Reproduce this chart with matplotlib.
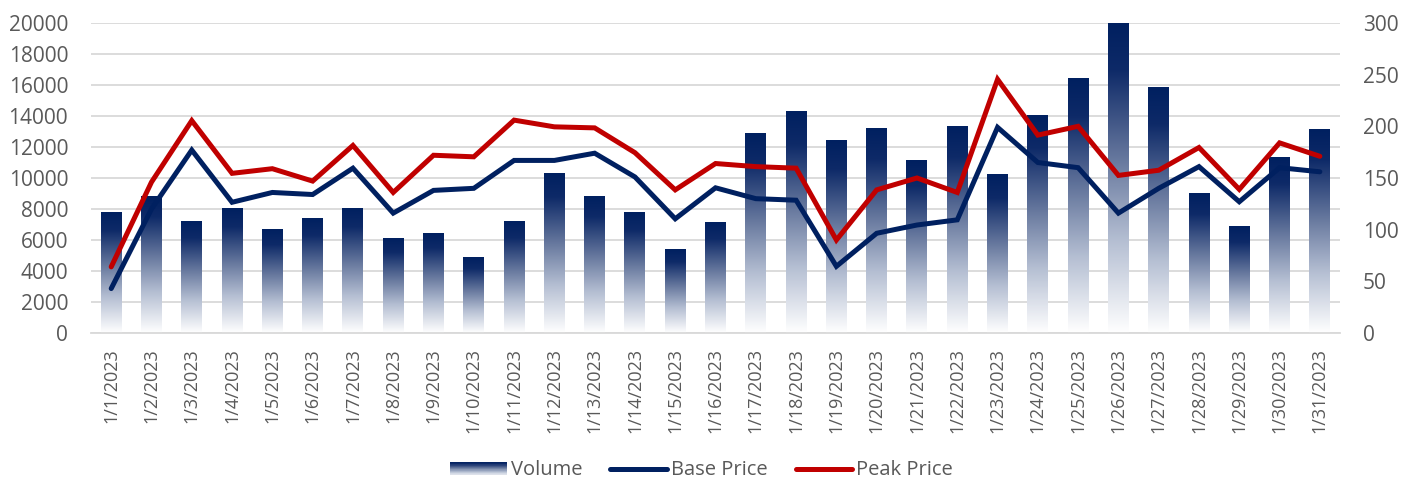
import numpy as np
import matplotlib
matplotlib.use("Agg")
import matplotlib.pyplot as plt
from matplotlib.colors import LinearSegmentedColormap
from matplotlib.patches import Rectangle
from matplotlib.legend_handler import HandlerBase

dates = [f"1/{d}/2023" for d in range(1, 32)]
volume = [7800, 8800, 7200, 8050, 6700, 7400, 8000, 6100, 6400, 4850,
          7200, 10300, 8800, 7750, 5400, 7100, 12900, 14300, 12400, 13200,
          11150, 13350, 10250, 14050, 16450, 19950, 15870, 9030, 6840, 11350, 13160]
base_price = [43, 120, 177, 126.5, 136, 134, 159.5, 116, 138, 140,
              167, 167, 174, 151, 110.5, 140.5, 130, 128.5, 64.5, 96.5,
              104.5, 109.5, 199, 165, 160, 116, 140, 161, 127, 160, 156]
peak_price = [64, 146, 205.5, 154.5, 159, 147, 181.5, 136, 172, 170.5,
              206, 199.5, 198.5, 174.5, 138.5, 164, 161, 159.5, 90, 138.5,
              150, 136, 245.5, 191.5, 200, 152.5, 157.5, 179.5, 139, 184, 171]

NAVY = "#002060"
RED = "#C00000"
GRAY = "#595959"

plt.rcParams['font.family'] = ['Open Sans', 'DejaVu Sans']

cmap = LinearSegmentedColormap.from_list(
    "grad", [(0.0, "#ffffff"), (0.3, "#b4bed2"), (0.55, "#6a7ba0"),
             (0.85, "#0e2a68"), (1.0, NAVY)])

fig = plt.figure(figsize=(14.03, 4.84), dpi=100)
ax = fig.add_axes([0.0649, 0.312, 0.8902, 0.6405])
ax2 = ax.twinx()

x = np.arange(len(dates))
w = 0.52
grad = np.linspace(0, 1, 256).reshape(-1, 1)
bars = ax.bar(x, volume, width=w, color="none", zorder=2)
for b in bars:
    bx, by = b.get_x(), b.get_y()
    bw, bh = b.get_width(), b.get_height()
    ax.imshow(grad, cmap=cmap, origin="lower", aspect="auto",
              extent=[bx, bx + bw, by, by + bh], zorder=2, interpolation="bilinear")

ax.set_xlim(-0.5, len(dates) - 0.5)
ax.set_ylim(0, 20000)
ax.set_yticks(np.arange(0, 20001, 2000))
ax.yaxis.grid(True, color="#d9d9d9", linewidth=1.3, zorder=0)
ax.set_axisbelow(True)
ax.set_xticks(x)
ax.set_xticklabels(dates, rotation=90, fontsize=13, color=GRAY)
ax.tick_params(axis="y", labelsize=15, labelcolor=GRAY, length=0, pad=16.5)
ax.tick_params(axis="x", length=0, pad=11)
for s in ["top", "right", "left"]:
    ax.spines[s].set_visible(False)
    ax2.spines[s].set_visible(False)
ax.spines["bottom"].set_color("#d9d9d9")
ax.spines["bottom"].set_linewidth(1.3)
ax2.spines["bottom"].set_visible(False)

l1, = ax2.plot(x, base_price, color=NAVY, linewidth=3.6, solid_joinstyle="miter",
               solid_capstyle="round", zorder=3)
l2, = ax2.plot(x, peak_price, color=RED, linewidth=3.6, solid_joinstyle="miter",
               solid_capstyle="round", zorder=3)
ax2.set_ylim(0, 300)
ax2.set_yticks(np.arange(0, 301, 50))
ax2.tick_params(axis="y", labelsize=15, labelcolor=GRAY, length=0, pad=16.5)


class GradHandler(HandlerBase):
    def create_artists(self, legend, orig_handle, xdescent, ydescent, width, height, fontsize, trans):
        arts = []
        n = 24
        for i in range(n):
            c = cmap(1 - (i + 0.5) / n * 0.92)
            r = Rectangle((-xdescent, -ydescent + height * (1 - (i + 1) / n)), width, height / n * 1.02,
                          facecolor=c, edgecolor="none", transform=trans)
            arts.append(r)
        return arts


vol_handle = Rectangle((0, 0), 1, 1)
leg = fig.legend([vol_handle, l1, l2], ["Volume", "Base Price", "Peak Price"],
                 handler_map={Rectangle: GradHandler()},
                 loc="center", bbox_to_anchor=(0.5, 0.028), ncol=3, frameon=False,
                 fontsize=14.5, handlelength=2.8, handleheight=0.65, handletextpad=0.2,
                 columnspacing=1.4, labelcolor=GRAY)

fig.savefig("out.png", dpi=100)
